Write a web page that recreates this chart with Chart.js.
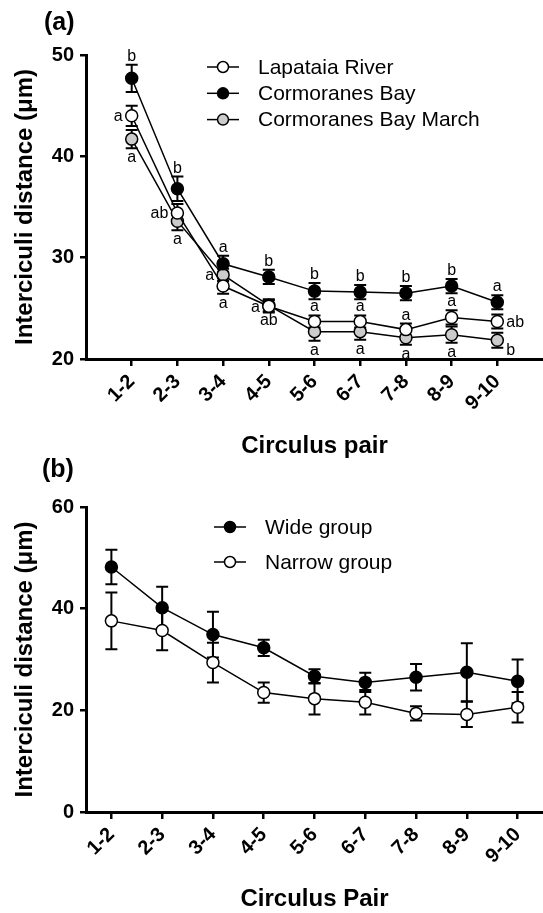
<!DOCTYPE html>
<html>
<head>
<meta charset="utf-8">
<script src="https://cdn.jsdelivr.net/npm/chart.js@4.4.1/dist/chart.umd.min.js"></script>
<style>
  body { margin: 0; background: #fff; }
  .panel { position: absolute; left: 0; width: 543px; }
  #wrapA { top: 0; height: 460px; }
  #wrapB { top: 450px; height: 463px; }
</style>
</head>
<body>
<div class="panel" id="wrapA"><canvas id="chartA" width="543" height="460"></canvas></div>
<div class="panel" id="wrapB"><canvas id="chartB" width="543" height="463"></canvas></div>
<script>
// circulus pairs on the x axis
var pairs = ['1-2', '2-3', '3-4', '4-5', '5-6', '6-7', '7-8', '8-9', '9-10'];

// (a) mean interciculi distance by site, with SE
var lapataia = [44.0, 34.4, 27.2, 25.2, 23.7, 23.7, 22.9, 24.1, 23.7];
var lapataiaSe = [1.0, 0.9, 0.75, 0.6, 0.6, 0.6, 0.6, 0.7, 0.7];
var cormoranes = [47.7, 36.8, 29.4, 28.1, 26.7, 26.6, 26.5, 27.2, 25.6];
var cormoranesSe = [1.35, 1.2, 0.8, 0.7, 0.8, 0.7, 0.7, 0.7, 0.7];
var cormoranesMarch = [41.7, 33.6, 28.3, 25.3, 22.7, 22.7, 22.1, 22.4, 21.85];
var cormoranesMarchSe = [0.9, 0.9, 0.6, 0.6, 0.9, 0.8, 0.7, 0.8, 0.75];

// significance letters for (a)
var lapataiaLetters = ['a', 'ab', 'a', 'a', 'a', 'a', 'a', 'a', 'ab'];
var cormoranesLetters = ['b', 'b', 'a', 'b', 'b', 'b', 'b', 'b', 'a'];
var cormoranesMarchLetters = ['a', 'a', 'a', 'ab', 'a', 'a', 'a', 'a', 'b'];

// (b) wide vs narrow groups, with SE
var wide = [48.2, 40.2, 34.9, 32.3, 26.7, 25.5, 26.5, 27.5, 25.7];
var wideSe = [3.4, 4.1, 4.5, 1.6, 1.4, 1.9, 2.6, 5.7, 4.3];
var narrow = [37.6, 35.7, 29.4, 23.5, 22.3, 21.6, 19.4, 19.2, 20.6];
var narrowSe = [5.6, 3.9, 3.9, 2.0, 3.1, 2.4, 1.4, 2.5, 3.0];

// where each letter sits relative to its point
var lapataiaLetterPos = ['left', 'left', 'below', 'left', 'above', 'above', 'above', 'above', 'right'];
var cormoranesLetterPos = ['above', 'above', 'above', 'above', 'above', 'above', 'above', 'above', 'above'];
var marchLetterPos = ['below', 'below', 'left', 'below', 'below', 'below', 'below', 'below', 'belowright'];

var FONT = "'Liberation Sans', Arial, sans-serif";
Chart.defaults.font.family = FONT;
Chart.defaults.color = '#000';

function yValue(d) {
  return typeof d === 'object' ? d.y : d;
}

var errorBars = {
  id: 'errorBars',
  beforeDatasetsDraw: function (chart) {
    var ctx = chart.ctx;
    var ys = chart.scales.y;
    ctx.save();
    ctx.strokeStyle = '#000';
    ctx.lineWidth = 2;
    chart.data.datasets.forEach(function (ds, i) {
      if (!ds.errors) return;
      chart.getDatasetMeta(i).data.forEach(function (pt, j) {
        var v = yValue(ds.data[j]);
        var top = ys.getPixelForValue(v + ds.errors[j]);
        var bot = ys.getPixelForValue(v - ds.errors[j]);
        ctx.beginPath();
        ctx.moveTo(pt.x, top); ctx.lineTo(pt.x, bot);
        ctx.moveTo(pt.x - 6, top); ctx.lineTo(pt.x + 6, top);
        ctx.moveTo(pt.x - 6, bot); ctx.lineTo(pt.x + 6, bot);
        ctx.stroke();
      });
    });
    ctx.restore();
  }
};

var letterLabels = {
  id: 'letterLabels',
  afterDatasetsDraw: function (chart) {
    var ctx = chart.ctx;
    var ys = chart.scales.y;
    ctx.save();
    ctx.fillStyle = '#000';
    ctx.font = '16px ' + FONT;
    chart.data.datasets.forEach(function (ds, i) {
      if (!ds.letters) return;
      chart.getDatasetMeta(i).data.forEach(function (pt, j) {
        var v = yValue(ds.data[j]);
        var e = ds.errors[j];
        var pos = ds.letterPos[j];
        var x = pt.x, y = pt.y;
        if (pos === 'above') {
          ctx.textAlign = 'center'; ctx.textBaseline = 'alphabetic';
          y = ys.getPixelForValue(v + e) - 4;
        } else if (pos === 'below') {
          ctx.textAlign = 'center'; ctx.textBaseline = 'alphabetic';
          y = ys.getPixelForValue(v - e) + 14;
        } else if (pos === 'left') {
          ctx.textAlign = 'right'; ctx.textBaseline = 'middle';
          x = pt.x - 9; y = pt.y + 1;
        } else if (pos === 'right') {
          ctx.textAlign = 'left'; ctx.textBaseline = 'middle';
          x = pt.x + 9; y = pt.y + 1;
        } else {
          ctx.textAlign = 'left'; ctx.textBaseline = 'middle';
          x = pt.x + 9; y = pt.y + 10;
        }
        ctx.fillText(ds.letters[j], x, y);
      });
    });
    ctx.restore();
  }
};

// line-and-circle legend plus the panel letter
var panelDecor = {
  id: 'panelDecor',
  afterDraw: function (chart, args, opts) {
    var ctx = chart.ctx;
    ctx.save();
    ctx.font = 'bold 25px ' + FONT;
    ctx.fillStyle = '#000';
    ctx.textAlign = 'left';
    ctx.textBaseline = 'middle';
    ctx.fillText(opts.panel, opts.panelX, opts.panelY);

    ctx.font = '21px ' + FONT;
    chart.data.datasets.forEach(function (ds, i) {
      var y = opts.legendY + i * opts.legendGap;
      var cx = opts.legendX + 16;
      ctx.strokeStyle = '#000';
      ctx.lineWidth = 1.5;
      ctx.beginPath();
      ctx.moveTo(opts.legendX, y); ctx.lineTo(opts.legendX + 32, y);
      ctx.stroke();
      ctx.beginPath();
      ctx.arc(cx, y, 5.5, 0, Math.PI * 2);
      ctx.fillStyle = ds.pointBackgroundColor;
      ctx.fill();
      ctx.stroke();
      ctx.fillStyle = '#000';
      ctx.fillText(ds.label, opts.legendX + 51, y + 1);
    });
    ctx.restore();
  }
};

function series(label, values, errors, fill, extra) {
  var ds = {
    label: label,
    data: values,
    errors: errors,
    borderColor: '#000',
    borderWidth: 1.5,
    pointRadius: 6,
    pointBorderWidth: 1.5,
    pointBorderColor: '#000',
    pointBackgroundColor: fill,
    tension: 0
  };
  return Object.assign(ds, extra || {});
}

function asXY(values) {
  return values.map(function (v, i) { return { x: i + 1, y: v }; });
}

var tickFont = { size: 20, weight: 'bold' };
var titleFont = { size: 24, weight: 'bold', lineHeight: 1.15 };
var axisGrid = { drawOnChartArea: false, drawTicks: true, color: '#000', lineWidth: 2.5 };
var axisBorder = { color: '#000', width: 3 };

// x axis runs right to the canvas edge
function fitX(s) {
  s.height = 101;
  s.paddingRight = 0;
}

function yAxis(min, max, step) {
  return {
    min: min, max: max,
    afterFit: function (s) { s.width = 86; },
    ticks: { stepSize: step, padding: 6, font: tickFont, color: '#000' },
    grid: Object.assign({ tickLength: 6 }, axisGrid),
    border: axisBorder,
    title: { display: true, text: 'Interciculi distance (μm)', font: titleFont, color: '#000', padding: { top: 12, bottom: 0 } }
  };
}

var xTicks = { minRotation: 45, maxRotation: 45, autoSkip: false, padding: 4, font: tickFont, color: '#000' };

new Chart(document.getElementById('chartA'), {
  type: 'line',
  data: {
    datasets: [
      series('Lapataia River', asXY(lapataia), lapataiaSe, '#ffffff',
        { letters: lapataiaLetters, letterPos: lapataiaLetterPos }),
      series('Cormoranes Bay', asXY(cormoranes), cormoranesSe, '#000000',
        { letters: cormoranesLetters, letterPos: cormoranesLetterPos }),
      series('Cormoranes Bay March', asXY(cormoranesMarch), cormoranesMarchSe, '#cbcbcb',
        { letters: cormoranesMarchLetters, letterPos: marchLetterPos })
    ]
  },
  options: {
    responsive: false,
    animation: false,
    events: [],
    layout: { autoPadding: false, padding: { top: 55, right: 0, left: 0, bottom: 0 } },
    plugins: {
      legend: { display: false },
      tooltip: { enabled: false },
      panelDecor: { panel: '(a)', panelX: 44, panelY: 23, legendX: 207, legendY: 67, legendGap: 26.3 }
    },
    scales: {
      x: {
        type: 'linear', min: 0, max: 10,
        afterBuildTicks: function (s) { s.ticks = pairs.map(function (p, i) { return { value: i + 1 }; }); },
        afterFit: fitX,
        ticks: Object.assign({ callback: function (v) { return pairs[v - 1]; } }, xTicks),
        grid: Object.assign({ tickLength: 7 }, axisGrid),
        border: axisBorder,
        title: { display: true, text: 'Circulus pair', font: titleFont, color: '#000', padding: 0 }
      },
      y: yAxis(20, 50, 10)
    }
  },
  plugins: [errorBars, letterLabels, panelDecor]
});

new Chart(document.getElementById('chartB'), {
  type: 'line',
  data: {
    labels: pairs,
    datasets: [
      series('Wide group', wide, wideSe, '#000000'),
      series('Narrow group', narrow, narrowSe, '#ffffff')
    ]
  },
  options: {
    responsive: false,
    animation: false,
    events: [],
    layout: { autoPadding: false, padding: { top: 57, right: 0, left: 0, bottom: 0 } },
    plugins: {
      legend: { display: false },
      tooltip: { enabled: false },
      panelDecor: { panel: '(b)', panelX: 42, panelY: 20, legendX: 214, legendY: 77, legendGap: 35 }
    },
    scales: {
      x: {
        type: 'category', offset: true,
        afterFit: fitX,
        ticks: xTicks,
        grid: Object.assign({ tickLength: 7 }, axisGrid),
        border: axisBorder,
        title: { display: true, text: 'Circulus Pair', font: titleFont, color: '#000', padding: 0 }
      },
      y: yAxis(0, 60, 20)
    }
  },
  plugins: [errorBars, panelDecor]
});
</script>
</body>
</html>
